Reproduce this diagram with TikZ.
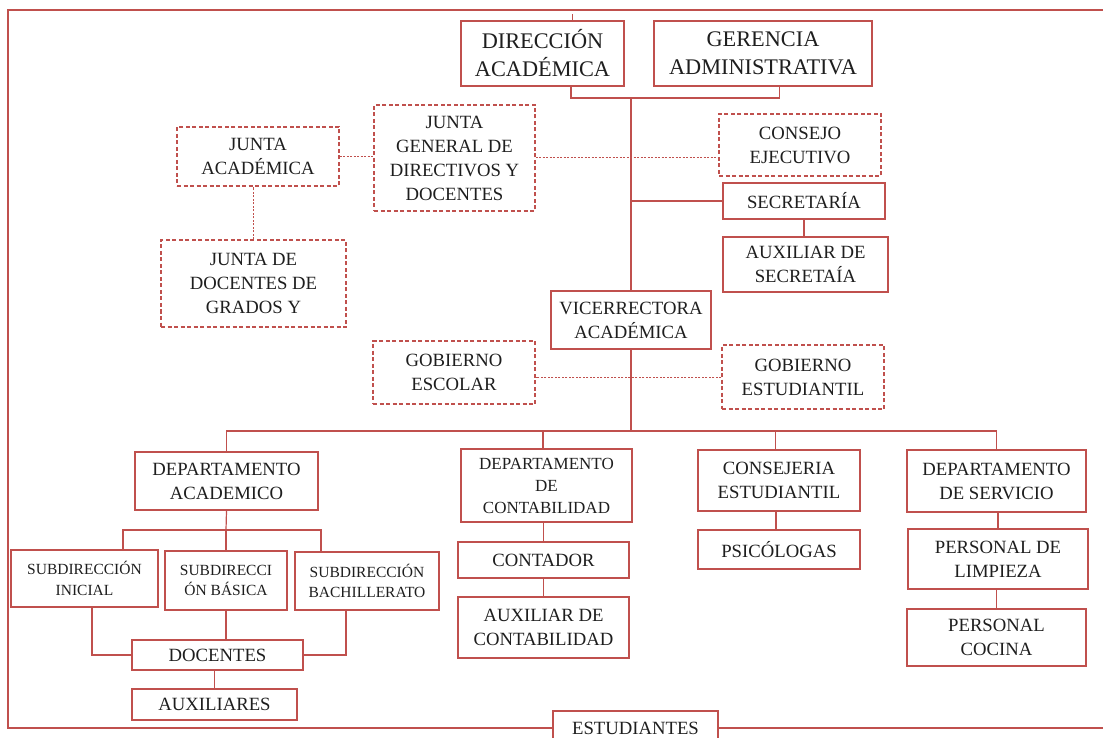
\documentclass[tikz,border=0pt]{standalone}
\usepackage{fontspec}
\setmainfont{Liberation Serif}
\definecolor{orgred}{RGB}{192,80,77}
\definecolor{orgtext}{RGB}{30,30,30}

\begin{document}
\begin{tikzpicture}[x=1pt,y=-1pt,
  every node/.style={draw=orgred,solid,line width=1.6pt,shape=rectangle,inner sep=0pt,
    align=center,text=orgtext,font=\fontsize{18.7}{24}\selectfont},
  dashbox/.style={dash pattern=on 4pt off 2.5pt,line width=1.4pt},
  big/.style={font=\fontsize{22.3}{28}\selectfont},
  small/.style={font=\fontsize{15.5}{20.5}\selectfont},
  mid/.style={font=\fontsize{17}{22}\selectfont},
  dotline/.style={dash pattern=on 2pt off 1.5pt,line width=1pt}]

  \useasboundingbox (0,0) rectangle (1103,738);

  % Specification of nodes (position, etc.)
  \node[big,minimum width=163pt,minimum height=65pt] (dir) at (542.5,53.5) {DIRECCIÓN\\ACADÉMICA};
  \node[big,minimum width=218pt,minimum height=65pt] (ger) at (763,53.5) {GERENCIA\\ADMINISTRATIVA};
  \node[dashbox,minimum width=162pt,minimum height=59pt] (jacad) at (258,156.5) {JUNTA\\ACADÉMICA};
  \node[dashbox,minimum width=161pt,minimum height=106pt] (jgen) at (454.5,158) {JUNTA\\GENERAL DE\\DIRECTIVOS Y\\DOCENTES};
  \node[dashbox,minimum width=162pt,minimum height=62pt] (cejec) at (800,145) {CONSEJO\\EJECUTIVO};
  \node[dashbox,minimum width=185pt,minimum height=87pt] (jdoc) at (253.5,283.5) {JUNTA DE\\DOCENTES DE\\GRADOS Y};
  \node[minimum width=162pt,minimum height=36pt] (secr) at (804,201) {SECRETARÍA};
  \node[minimum width=165pt,minimum height=55pt] (auxsec) at (805.5,264.5) {AUXILIAR DE\\SECRETAÍA};
  \node[minimum width=160pt,minimum height=58pt] (vice) at (631,320) {VICERRECTORA\\ACADÉMICA};
  \node[dashbox,minimum width=162pt,minimum height=63pt] (gesc) at (454,372.5) {GOBIERNO\\ESCOLAR};
  \node[dashbox,minimum width=162pt,minimum height=64pt] (gest) at (803,377) {GOBIERNO\\ESTUDIANTIL};
  \node[minimum width=183pt,minimum height=58pt] (dacad) at (226.5,481) {DEPARTAMENTO\\ACADEMICO};
  \node[mid,minimum width=171pt,minimum height=73pt] (dcont) at (546.5,485.5) {DEPARTAMENTO\\DE\\CONTABILIDAD};
  \node[minimum width=162pt,minimum height=61pt] (cons) at (779,480.5) {CONSEJERIA\\ESTUDIANTIL};
  \node[minimum width=179pt,minimum height=62pt] (dserv) at (996.5,481) {DEPARTAMENTO\\DE SERVICIO};
  \node[small,minimum width=147pt,minimum height=57pt] (sini) at (84.5,578.5) {SUBDIRECCIÓN\\INICIAL};
  \node[small,minimum width=122pt,minimum height=59pt] (sbas) at (226,580.5) {SUBDIRECCI\\ÓN BÁSICA};
  \node[small,minimum width=144pt,minimum height=58pt] (sbach) at (367,581) {SUBDIRECCIÓN\\BACHILLERATO};
  \node[minimum width=171pt,minimum height=30pt] (doc) at (217.5,655) {DOCENTES};
  \node[minimum width=165pt,minimum height=31pt] (aux) at (214.5,704.5) {AUXILIARES};
  \node[minimum width=171pt,minimum height=36pt] (conta) at (543.5,560) {CONTADOR};
  \node[minimum width=171pt,minimum height=61pt] (auxcont) at (543.5,627.5) {AUXILIAR DE\\CONTABILIDAD};
  \node[minimum width=162pt,minimum height=39pt] (psi) at (779,549.5) {PSICÓLOGAS};
  \node[minimum width=180pt,minimum height=60pt] (plim) at (998,559) {PERSONAL DE\\LIMPIEZA};
  \node[minimum width=179pt,minimum height=57pt] (pcoc) at (996.5,637.5) {PERSONAL\\COCINA};
  \node[minimum width=165pt,minimum height=34pt] (est) at (635.5,728) {ESTUDIANTES};

  \coordinate (j1) at (631,98);
  \coordinate (j2) at (631,431);
  \coordinate (j3) at (226,530);
  \coordinate (f1) at (8,10);
  \coordinate (f2) at (1103,10);

  \begin{scope}[draw=orgred,line width=1.2pt]
    \draw ([xshift=28.5pt]dir.south) |- (j1) -| ([xshift=16.5pt]ger.south);
    \draw (j1) -- (vice.north);
    \draw (j1 |- secr.west) -- (secr.west);
    \draw (secr.south) -- (secr.south |- auxsec.north);
    \draw (vice.south) -- (j2);
    \draw (dacad.north) |- (j2) -| (dserv.north);
    \draw ([xshift=-3.5pt]dcont.north) -- ([xshift=-3.5pt]dcont.north |- j2);
    \draw ([xshift=-3.5pt]cons.north) -- ([xshift=-3.5pt]cons.north |- j2);
    \draw (dacad.south) -- (j3);
    \draw ([xshift=38.5pt]sini.north) |- (j3) -| ([xshift=-46pt]sbach.north);
    \draw (sbas.north) -- (sbas.north |- j3);
    \draw ([xshift=7.5pt]sini.south) |- (doc.west);
    \draw (sbas.south) -- (sbas.south |- doc.north);
    \draw ([xshift=-21pt]sbach.south) |- (doc.east);
    \draw (aux.north) -- (aux.north |- doc.south);
    \draw (conta.north) -- (conta.north |- dcont.south);
    \draw (auxcont.north) -- (auxcont.north |- conta.south);
    \draw ([xshift=-3pt]psi.north) -- ([xshift=-3pt]psi.north |- cons.south);
    \draw (plim.north) -- (plim.north |- dserv.south);
    \draw (pcoc.north) -- (pcoc.north |- plim.south);
    \draw (est.west) -| (f1) -- (f2);
    \draw (est.east) -- (est.east -| f2);
    \draw[line width=0.8pt] ([xshift=29.5pt]dir.north) -- ++(0,-6);
    % dotted links
    \draw[dotline] (jacad.east) -- (jacad.east -| jgen.west);
    \draw[dotline] (jgen.east) -- (jgen.east -| cejec.west);
    \draw[dotline] (jdoc.north) -- (jdoc.north |- jacad.south);
    \draw[dotline] (gest.west) -- (gest.west -| gesc.east);
  \end{scope}

\end{tikzpicture}
\end{document}
